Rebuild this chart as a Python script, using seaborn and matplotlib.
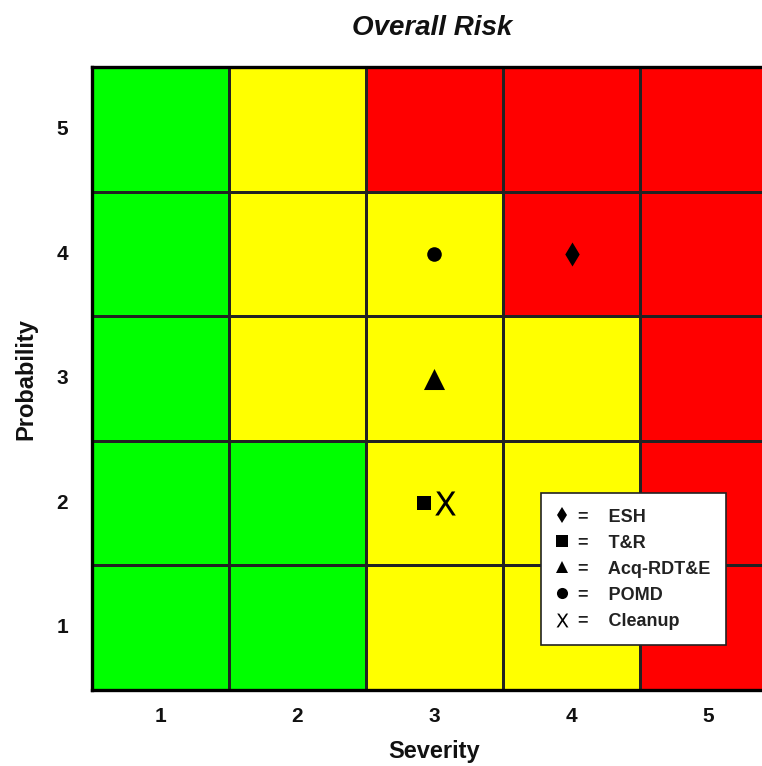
import matplotlib
matplotlib.use("Agg")
import matplotlib.pyplot as plt
import seaborn as sns
import numpy as np
import pandas as pd
from matplotlib.colors import ListedColormap
from matplotlib.lines import Line2D

# risk level per cell: 0 = low (green), 1 = medium (yellow), 2 = high (red)
probability = [5, 4, 3, 2, 1]
severity = [1, 2, 3, 4, 5]
risk_rows = [
    [0, 1, 2, 2, 2],
    [0, 1, 1, 2, 2],
    [0, 1, 1, 1, 2],
    [0, 0, 1, 1, 2],
    [0, 0, 1, 1, 2],
]
risk_colors = ["#00FF00", "#FFFF00", "#FF0000"]

# items plotted on the matrix
items = ["ESH", "T&R", "Acq-RDT&E", "POMD", "Cleanup"]
item_sev = [4, 2.92, 3, 3, 3.08]
item_prob = [4, 2, 3, 4, 2]
item_markers = ["d", "s", "^", "o", r"$\mathrm{X}$"]
item_sizes = [150, 100, 230, 110, 300]

sns.set_theme(style="white")
plt.rcParams["font.family"] = ["Liberation Sans", "DejaVu Sans"]

fig = plt.figure(figsize=(7.62, 7.66), dpi=100)
ax = fig.add_axes([0.1207, 0.0992, 0.899, 0.813])

df = pd.DataFrame(risk_rows, index=probability, columns=severity)
sns.heatmap(df, ax=ax, cmap=ListedColormap(risk_colors), vmin=-0.5, vmax=2.5,
            cbar=False, linewidths=1, linecolor="#222222", square=False)

for name, s, p, m, sz in zip(items, item_sev, item_prob, item_markers, item_sizes):
    ax.scatter(s - 0.5, probability.index(p) + 0.5, marker=m, s=sz,
               color="black", linewidths=0, zorder=5)

for sp in ax.spines.values():
    sp.set_visible(True)
    sp.set_linewidth(2.4)
    sp.set_color("black")

ax.tick_params(axis="both", length=0)
ax.tick_params(axis="x", pad=12)
ax.tick_params(axis="y", pad=17)
ax.set_xticklabels([str(v) for v in severity], fontsize=15, fontweight="bold", color="#111111")
ax.set_yticklabels([str(v) for v in probability], fontsize=15, fontweight="bold", color="#111111", rotation=0)
ax.set_xlabel("Severity", fontsize=17, fontweight="bold", labelpad=10, color="#111111")
ax.set_ylabel("Probability", fontsize=17, fontweight="bold", labelpad=14, color="#111111")
fig.text(0.567, 0.963, "Overall Risk", ha="center", va="center", fontsize=20,
         fontweight="bold", fontstyle="italic", color="#111111")

handles = []
for m in item_markers:
    ms = 8 if m != item_markers[-1] else 10
    handles.append(Line2D([], [], linestyle="none", marker=m, color="black",
                          markersize=ms, markeredgewidth=0))
labels = ["=    " + n for n in items]
leg = ax.legend(handles, labels, loc="lower left", bbox_to_anchor=(0.6555, 0.072),
                borderaxespad=0, frameon=True, fancybox=False, framealpha=1,
                edgecolor="#222222", prop={"weight": "bold", "size": 13},
                handlelength=0.6, handletextpad=0.6, labelspacing=0.5, borderpad=0.85)
leg.get_frame().set_linewidth(1.2)
for t in leg.get_texts():
    t.set_color("#222222")

fig.savefig("out.png", dpi=100)
